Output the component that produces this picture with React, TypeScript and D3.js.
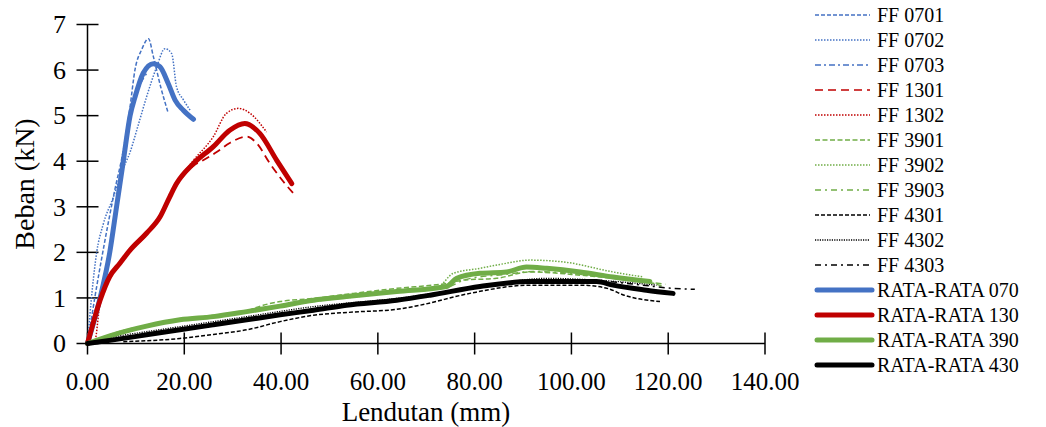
import React, { useEffect, useRef } from 'react';
import * as d3 from 'd3';

// [lendutan (mm), beban (kN)]
const ff0701 = [[0, 0], [1.5, 1.0], [3.5, 2.2], [5.5, 3.3], [7.5, 4.3], [8.8, 5.2], [9.8, 6.0], [11.2, 6.45], [12.6, 6.69], [13.6, 6.3], [15.2, 5.6], [16.7, 5.05]];
const ff0702 = [[0, 0], [1.0, 1.2], [1.9, 2.0], [3.2, 2.6], [5.3, 3.2], [7.2, 3.8], [8.8, 4.2], [10.5, 4.8], [12.2, 5.41], [14.3, 6.07], [16.0, 6.47], [17.4, 6.36], [18.4, 5.63], [19.8, 5.35], [21.2, 5.12]];
const ff0703 = [[0, 0], [2.4, 1.0], [4.4, 2.0], [6.1, 3.0], [7.6, 4.0], [9.0, 5.0], [10.6, 5.6], [12.4, 5.95]];
const ff1301 = [[0, 0], [2.2, 0.9], [4.0, 1.39], [6.5, 1.75], [9.0, 2.05], [12.5, 2.42], [15.2, 2.8], [18.6, 3.5], [21.9, 3.9], [23.9, 4.02], [26.7, 4.2], [29.4, 4.4], [32.9, 4.54], [35.0, 4.39], [37.7, 3.95], [40.5, 3.55], [42.5, 3.3]];
const ff1302 = [[0, 0], [1.5, 0.05], [2.6, 0.9], [4.8, 1.45], [6.7, 1.78], [9.0, 2.05], [12.2, 2.45], [15.0, 2.8], [18.2, 3.5], [21.9, 4.02], [26.0, 4.54], [28.7, 5.05], [31.2, 5.16], [33.6, 5.05], [37.0, 4.64]];
const ff3901 = [[0, 0], [5.3, 0.22], [12.2, 0.4], [19.1, 0.53], [26.0, 0.62], [32.9, 0.72], [36.3, 0.84], [39.8, 0.92], [46.7, 0.99], [55.0, 1.1], [63.9, 1.21], [74.2, 1.32], [77.6, 1.39], [84.5, 1.43], [91.4, 1.57], [101.8, 1.5], [108.6, 1.43], [116.9, 1.32], [118.9, 1.25]];
const ff3902 = [[0, 0], [5.3, 0.17], [12.2, 0.36], [19.1, 0.5], [26.0, 0.57], [32.9, 0.68], [39.8, 0.8], [46.7, 0.92], [55.0, 1.02], [63.9, 1.12], [72.0, 1.2], [75.6, 1.54], [81.1, 1.65], [86.0, 1.75], [91.4, 1.83], [98.3, 1.79], [108.6, 1.57], [114.8, 1.46]];
const ff3903 = [[0, 0], [4.6, 0.16], [12.2, 0.37], [19.1, 0.5], [26.0, 0.58], [32.9, 0.69], [39.8, 0.82], [46.7, 0.94], [55.0, 1.03], [63.9, 1.13], [74.2, 1.23], [78.0, 1.4], [86.6, 1.52], [92.0, 1.58], [101.8, 1.52], [110.0, 1.42], [119.5, 1.3]];
const ff4301 = [[7.4, 0.04], [19.1, 0.11], [26.0, 0.2], [32.9, 0.3], [39.8, 0.48], [46.7, 0.62], [55.0, 0.69], [63.9, 0.75], [68.7, 0.84], [79.0, 1.1], [91.4, 1.28], [101.8, 1.28], [107.4, 1.21], [110.9, 1.06], [118.3, 0.92]];
const ff4302 = [[0, 0], [5.3, 0.14], [12.2, 0.26], [19.1, 0.37], [32.9, 0.59], [46.7, 0.81], [63.9, 0.99], [81.1, 1.25], [94.9, 1.43], [105.2, 1.39], [117.6, 1.28]];
const ff4303 = [[0, 0], [5.3, 0.09], [12.2, 0.2], [19.1, 0.31], [32.9, 0.53], [46.7, 0.74], [63.9, 0.96], [81.1, 1.26], [91.4, 1.36], [105.2, 1.37], [113.0, 1.3], [121.0, 1.21], [125.5, 1.19]];
const avg070 = [[0, 0], [2.6, 1.0], [4.6, 2.0], [6.0, 3.0], [7.4, 4.0], [8.8, 5.0], [9.8, 5.4], [11.5, 5.93], [13.6, 6.14], [15.0, 6.07], [16.7, 5.7], [18.1, 5.34], [19.8, 5.12], [21.9, 4.92]];
const avg130 = [[0, 0], [2.6, 0.95], [4.6, 1.47], [6.7, 1.76], [8.8, 2.05], [12.2, 2.42], [15.0, 2.78], [17.0, 3.22], [18.4, 3.51], [21.9, 3.95], [26.0, 4.32], [29.4, 4.68], [32.5, 4.83], [35.6, 4.61], [39.1, 4.02], [42.2, 3.51]];
const avg390 = [[0, 0], [5.3, 0.19], [12.2, 0.38], [19.1, 0.52], [26.0, 0.59], [32.9, 0.7], [39.8, 0.82], [46.7, 0.95], [53.5, 1.03], [63.9, 1.14], [74.2, 1.25], [76.3, 1.43], [81.1, 1.54], [86.6, 1.57], [90.7, 1.68], [94.9, 1.65], [101.8, 1.57], [108.6, 1.46], [116.2, 1.36]];
const avg430 = [[0, 0], [5.3, 0.08], [12.2, 0.19], [19.1, 0.3], [26.0, 0.41], [32.9, 0.52], [39.8, 0.63], [46.7, 0.73], [53.5, 0.84], [63.9, 0.95], [70.8, 1.06], [81.1, 1.25], [91.4, 1.36], [98.3, 1.36], [105.2, 1.36], [108.6, 1.28], [115.5, 1.17], [121.0, 1.1]];

const xTicks = [0, 20, 40, 60, 80, 100, 120, 140];
const yTicks = [0, 1, 2, 3, 4, 5, 6, 7];

const BLUE = '#4472C4';
const RED = '#C00000';
const GREEN = '#70AD47';
const BLACK = '#000000';

const series = [
  { name: 'FF 0701', data: ff0701, color: BLUE, dash: '4,2', w: 1.5 },
  { name: 'FF 0702', data: ff0702, color: BLUE, dash: '1.5,1.5', w: 1.5 },
  { name: 'FF 0703', data: ff0703, color: BLUE, dash: '6,3,2,3', w: 1.5 },
  { name: 'FF 1301', data: ff1301, color: RED, dash: '8,5', w: 1.8 },
  { name: 'FF 1302', data: ff1302, color: RED, dash: '1.5,1.5', w: 1.5 },
  { name: 'FF 3901', data: ff3901, color: GREEN, dash: '5,2.5', w: 1.5 },
  { name: 'FF 3902', data: ff3902, color: GREEN, dash: '1.5,1.5', w: 1.5 },
  { name: 'FF 3903', data: ff3903, color: GREEN, dash: '6,4,2,4', w: 1.5 },
  { name: 'FF 4301', data: ff4301, color: BLACK, dash: '4,2', w: 1.5 },
  { name: 'FF 4302', data: ff4302, color: BLACK, dash: '1.2,1.2', w: 1.3 },
  { name: 'FF 4303', data: ff4303, color: BLACK, dash: '6,4,2,4', w: 1.5 },
  { name: 'RATA-RATA 070', data: avg070, color: BLUE, dash: null, w: 5 },
  { name: 'RATA-RATA 130', data: avg130, color: RED, dash: null, w: 5 },
  { name: 'RATA-RATA 390', data: avg390, color: GREEN, dash: null, w: 5 },
  { name: 'RATA-RATA 430', data: avg430, color: BLACK, dash: null, w: 5 },
];

const FONT = '"Liberation Serif", "Times New Roman", serif';

export default function App() {
  const ref = useRef<SVGSVGElement>(null);

  useEffect(() => {
    const svg = d3.select(ref.current);
    svg.selectAll('*').remove();

    const x = d3.scaleLinear().domain([0, 140]).range([87.5, 765]);
    const y = d3.scaleLinear().domain([0, 7]).range([343.5, 24.5]);

    // axes
    svg.append('line').attr('x1', x(0)).attr('x2', x(140)).attr('y1', y(0)).attr('y2', y(0))
      .attr('stroke', '#000').attr('stroke-width', 1.5);
    svg.append('line').attr('x1', x(0)).attr('x2', x(0)).attr('y1', y(0)).attr('y2', y(7))
      .attr('stroke', '#000').attr('stroke-width', 1.5);

    xTicks.forEach(t => {
      svg.append('line').attr('x1', x(t)).attr('x2', x(t)).attr('y1', y(0) - 11).attr('y2', y(0) + 11)
        .attr('stroke', '#000').attr('stroke-width', 1.5);
      svg.append('text').attr('x', x(t)).attr('y', 390).attr('text-anchor', 'middle')
        .attr('font-family', FONT).attr('font-size', 25).text(t.toFixed(2));
    });
    yTicks.forEach(t => {
      svg.append('line').attr('x1', x(0) - 11).attr('x2', x(0) + 11).attr('y1', y(t)).attr('y2', y(t))
        .attr('stroke', '#000').attr('stroke-width', 1.5);
      svg.append('text').attr('x', 66).attr('y', y(t)).attr('dy', '0.34em').attr('text-anchor', 'end')
        .attr('font-family', FONT).attr('font-size', 26).text(t);
    });

    svg.append('text').attr('x', 426).attr('y', 421).attr('text-anchor', 'middle')
      .attr('font-family', FONT).attr('font-size', 27).text('Lendutan (mm)');
    svg.append('text').attr('transform', 'translate(34,184) rotate(-90)').attr('text-anchor', 'middle')
      .attr('font-family', FONT).attr('font-size', 28).text('Beban (kN)');

    const line = d3.line<number[]>()
      .x(d => x(d[0]))
      .y(d => y(d[1]))
      .curve(d3.curveMonotoneX);

    series.forEach(s => {
      const p = svg.append('path').datum(s.data)
        .attr('fill', 'none').attr('stroke', s.color).attr('stroke-width', s.w)
        .attr('stroke-linejoin', 'round')
        .attr('d', line);
      if (s.dash) p.attr('stroke-dasharray', s.dash);
      else p.attr('stroke-linecap', 'round');
    });

    // legend
    const lg = svg.append('g');
    series.forEach((s, i) => {
      const cy = 15 + i * 25;
      const l = lg.append('line').attr('x1', s.dash ? 815 : 817).attr('x2', s.dash ? 870 : 872)
        .attr('y1', cy).attr('y2', cy)
        .attr('stroke', s.color).attr('stroke-width', s.dash ? 1.5 : 5);
      if (s.dash) l.attr('stroke-dasharray', s.dash);
      else l.attr('stroke-linecap', 'round');
      lg.append('text').attr('x', 877).attr('y', cy).attr('dy', '0.34em')
        .attr('font-family', FONT).attr('font-size', 20).text(s.name);
    });
  }, []);

  return (
    <div style={{ position: 'absolute', left: 0, top: 0, width: 1046, height: 427, overflow: 'hidden' }}>
      <svg ref={ref} width={1046} height={427} style={{ display: 'block' }} />
    </div>
  );
}
